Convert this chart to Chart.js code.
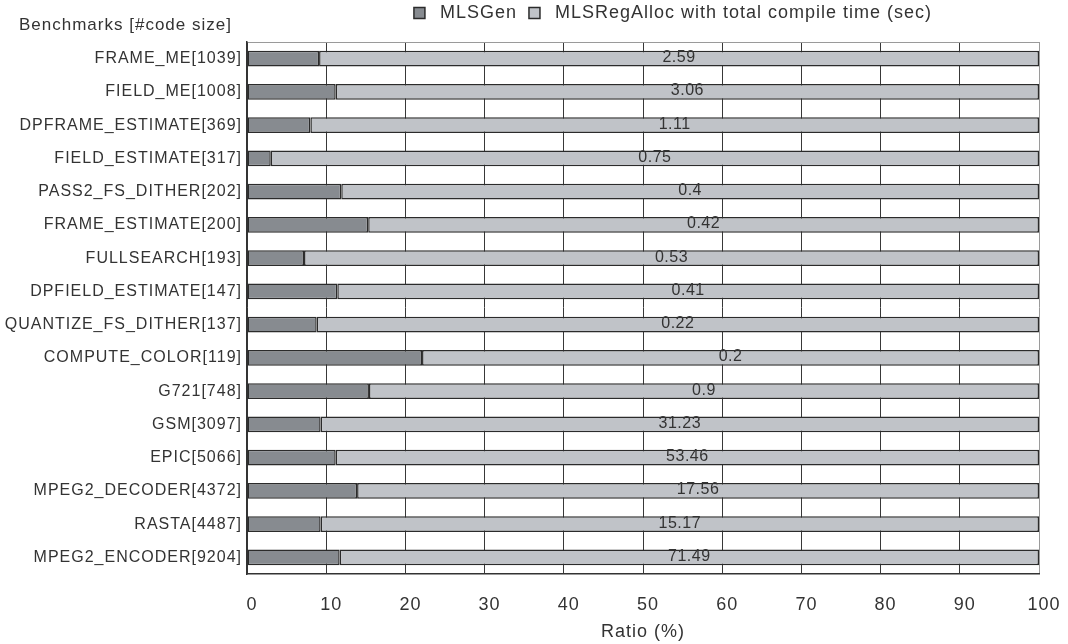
<!DOCTYPE html>
<html lang="en">
  <head>
    <meta charset="utf-8" />
    <title>MLSGen vs MLSRegAlloc</title>
    <script src="https://cdn.jsdelivr.net/npm/chart.js@4.4.0/dist/chart.umd.min.js"></script>
    <style>
      html, body { margin: 0; padding: 0; background: #fff; }
      #wrap { width: 1068px; height: 644px; }
    </style>
  </head>
  <body>
    <div id="wrap"><canvas id="myChart" width="1068" height="644"></canvas></div>
    <script>
      const benchmarks = [
        "FRAME_ME[1039]", "FIELD_ME[1008]", "DPFRAME_ESTIMATE[369]", "FIELD_ESTIMATE[317]",
        "PASS2_FS_DITHER[202]", "FRAME_ESTIMATE[200]", "FULLSEARCH[193]", "DPFIELD_ESTIMATE[147]",
        "QUANTIZE_FS_DITHER[137]", "COMPUTE_COLOR[119]", "G721[748]", "GSM[3097]",
        "EPIC[5066]", "MPEG2_DECODER[4372]", "RASTA[4487]", "MPEG2_ENCODER[9204]",
      ];
      // ratio (%)
      const mlsGen = [9.1, 11.2, 8.0, 3.0, 11.9, 15.3, 7.2, 11.4, 8.8, 22.1, 15.4, 9.3, 11.2, 13.9, 9.3, 11.7];
      const mlsRegAlloc = [90.9, 88.8, 92.0, 97.0, 88.1, 84.7, 92.8, 88.6, 91.2, 77.9, 84.6, 90.7, 88.8, 86.1, 90.7, 88.3];
      // total compile time (sec), printed on the light bars
      const compileTimes = ["2.59", "3.06", "1.11", "0.75", "0.4", "0.42", "0.53", "0.41", "0.22", "0.2", "0.9", "31.23", "53.46", "17.56", "15.17", "71.49"];
      const xTicks = [0, 10, 20, 30, 40, 50, 60, 70, 80, 90, 100];

      const FONT = "'Liberation Sans', Arial, sans-serif";
      const INK = "#333";

      // the original uses a slightly wide-spaced face
      const spacing = {
        id: "spacing",
        beforeUpdate(chart) { chart.ctx.letterSpacing = "1px"; },
        beforeDraw(chart) { chart.ctx.letterSpacing = "1px"; },
      };

      // legend sits a little right of the plot centre, the axis caption a bit in from the edge
      const nudgeBoxes = {
        id: "nudgeBoxes",
        afterLayout(chart) {
          chart.legend.left += 30;
          chart.legend.right += 30;
          chart.titleBlock.left += 19;
        },
      };

      const barLabels = {
        id: "barLabels",
        afterDatasetsDraw(chart) {
          const ctx = chart.ctx;
          const meta = chart.getDatasetMeta(1);
          ctx.save();
          ctx.letterSpacing = "0.5px";
          ctx.font = "16px " + FONT;
          ctx.fillStyle = INK;
          ctx.textAlign = "center";
          ctx.textBaseline = "middle";
          meta.data.forEach((bar, i) => {
            const cx = (bar.x + bar.base) / 2;
            ctx.fillText(compileTimes[i], cx, bar.y - 1);
          });
          ctx.restore();
        },
      };

      const ctx = document.getElementById("myChart").getContext("2d");
      const myChart = new Chart(ctx, {
        type: "bar",
        data: {
          labels: benchmarks,
          datasets: [
            {
              label: "MLSGen",
              data: mlsGen,
              backgroundColor: "#878b90",
              borderColor: "#2b2b2b",
              borderWidth: 1.5,
              borderSkipped: false,
              barPercentage: 0.47,
              categoryPercentage: 1,
            },
            {
              label: "MLSRegAlloc with total compile time (sec)",
              data: mlsRegAlloc,
              backgroundColor: "#c0c3c8",
              borderColor: "#2b2b2b",
              borderWidth: 1.5,
              borderSkipped: false,
              barPercentage: 0.47,
              categoryPercentage: 1,
            },
          ],
        },
        options: {
          indexAxis: "y",
          responsive: false,
          animation: false,
          layout: { padding: { top: -8, left: 0, right: 29, bottom: 0 } },
          plugins: {
            tooltip: { enabled: false },
            legend: {
              position: "top",
              fullSize: false,
              labels: {
                boxWidth: 11,
                boxHeight: 11,
                padding: 12,
                color: INK,
                font: { family: FONT, size: 18, lineHeight: 1 },
                generateLabels(chart) {
                  const items = Chart.defaults.plugins.legend.labels.generateLabels(chart);
                  items.forEach((it) => { it.text = " " + it.text; });
                  return items;
                },
              },
            },
            title: {
              display: true,
              text: "Benchmarks [#code size]",
              align: "start",
              weight: 500,
              color: INK,
              font: { family: FONT, size: 17, weight: "normal", lineHeight: 1 },
              padding: { top: -15, bottom: 8 },
            },
          },
          scales: {
            x: {
              stacked: true,
              min: 0,
              max: 100,
              afterBuildTicks(scale) { scale.ticks = xTicks.map((v) => ({ value: v })); },
              afterFit(scale) {
                scale.height = 70;
                scale.paddingRight = 0;
                scale.paddingLeft = 0;
              },
              grid: {
                drawTicks: false,
                color: (c) => (c.tick && c.tick.value === 100 ? "#9a9a9a" : "#383838"),
                lineWidth: 1,
              },
              border: { color: "#333", width: 1.5 },
              ticks: {
                padding: 20,
                labelOffset: 5,
                color: INK,
                font: { family: FONT, size: 18 },
              },
              title: {
                display: true,
                text: "Ratio (%)",
                color: INK,
                font: { family: FONT, size: 18, lineHeight: 1.1 },
                padding: { top: 0, bottom: 2 },
              },
            },
            y: {
              stacked: true,
              afterFit(scale) { scale.width = 247; },
              grid: {
                drawTicks: false,
                color: (c) => (c.index === 0 ? "#9a9a9a" : "rgba(0,0,0,0)"),
              },
              border: { color: "#333", width: 1.5 },
              ticks: {
                padding: 5,
                color: INK,
                font: { family: FONT, size: 16 },
              },
            },
          },
        },
        plugins: [spacing, nudgeBoxes, barLabels],
      });
    </script>
  </body>
</html>
